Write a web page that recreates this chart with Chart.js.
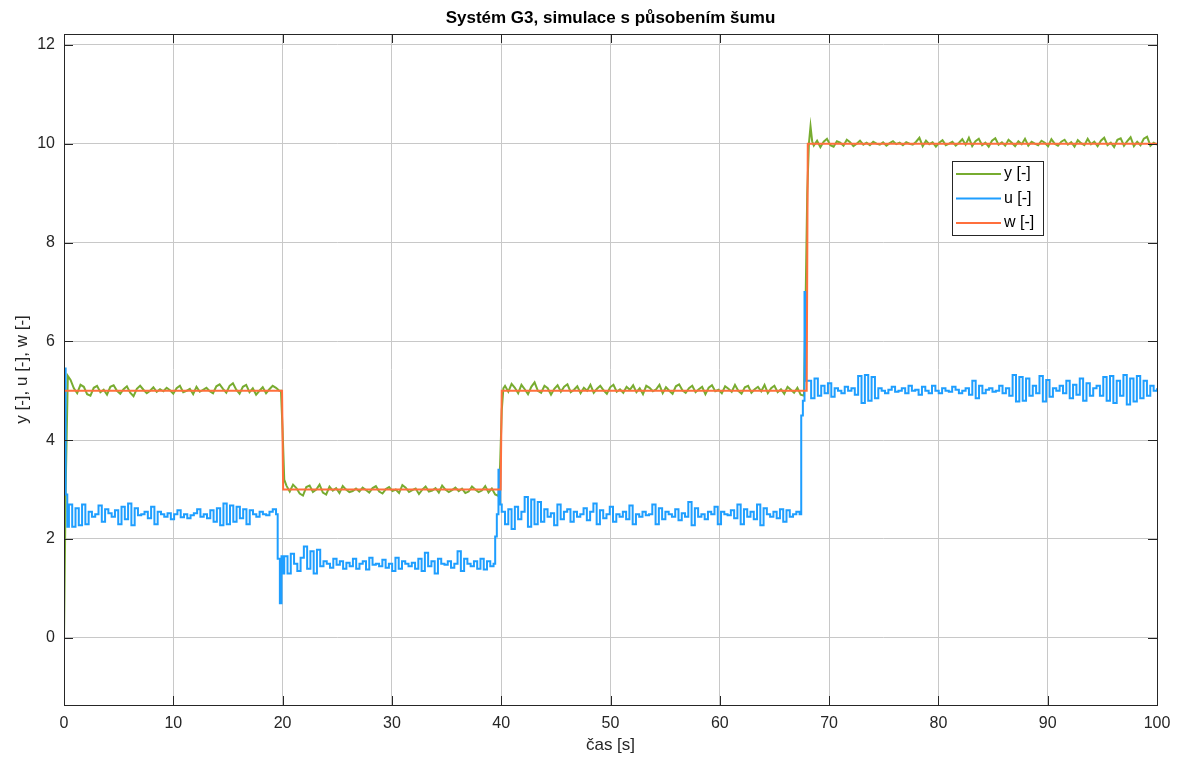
<!DOCTYPE html>
<html>
<head>
<meta charset="utf-8">
<script src="https://cdn.jsdelivr.net/npm/chart.js@4"></script>
<style>
  html, body { margin: 0; padding: 0; background: #fff; }
  canvas { display: block; }
</style>
</head>
<body>
<canvas id="chart" width="1185" height="767"></canvas>
<script>
// === DATA ===
const xTicks = [0, 10, 20, 30, 40, 50, 60, 70, 80, 90, 100];
const yTicks = [0, 2, 4, 6, 8, 10, 12];

// w - reference
const wT = [0, 19.95, 20.05, 39.95, 40.05, 67.95, 68.05, 100];
const wV = [5, 5, 3, 3, 5, 5, 10, 10];

// y - output (transitions + plateaus)
const yRiseT = [0, 0.15, 0.35];
const yRise = [0, 3.0, 5.3];
const y1 = [5.22,5.05,4.95,5.12,5.08,4.93,4.9,5.06,5.1,4.97,5.02,4.92,5.08,5.11,5.0,4.94,5.03,5.09,4.96,4.89,5.04,5.1,5.02,4.95,5.0,5.07,4.98,5.03,4.99,5.06,5.01,4.94,5.05,5.1,4.97,5.0,5.04,4.93,5.08,4.98,5.02,5.06,4.99,4.95,5.09,5.13,5.04,4.96,5.1,5.15,5.02,4.94,5.08,5.12,4.97,5.05,4.92,5.0,5.07,4.95,5.03,5.1,5.06,5.0];
const yDropT = [19.85, 20.0, 20.15];
const yDrop = [5.0, 4.2, 3.2];
const y2 = [3.08,2.96,3.1,3.03,2.92,2.88,3.05,3.08,2.95,3.0,3.1,2.94,2.9,3.06,2.98,3.03,2.93,3.07,3.0,2.95,2.97,3.02,2.96,3.04,2.99,2.94,3.03,3.07,2.96,2.92,3.01,3.05,2.97,3.0,2.93,3.09,3.04,2.95,2.99,3.02,2.91,3.0,3.06,2.96,2.98,3.03,2.94,3.08,3.0,2.95,2.99,3.04,2.97,3.02,2.93,2.96,3.06,3.0,2.95,2.98,3.07,2.94,3.02,2.9,2.87];
const yRise2T = [39.9, 40.05, 40.2];
const yRise2 = [3.5, 4.6, 5.05];
const y3 = [5.1,4.98,5.14,5.06,4.95,5.12,5.03,4.93,5.08,5.17,5.0,4.96,5.1,5.05,4.92,5.04,5.11,4.98,5.08,5.13,4.97,5.02,5.09,4.95,5.06,5.0,5.12,4.96,5.04,5.1,5.01,4.94,5.07,5.12,4.98,5.03,4.96,5.08,5.02,5.11,4.97,5.05,4.93,5.1,5.06,4.99,5.03,5.12,4.95,5.07,5.0,4.94,5.09,5.13,5.01,4.96,5.05,5.1,4.97,5.03,5.08,4.93,5.06,5.11,4.99,5.02,4.95,5.09,5.04,4.98,5.12,5.0,4.94,5.07,5.1,4.96,5.03,5.08,4.99,5.12,4.95,5.05,5.1,4.97,5.03,4.94,5.08,5.02,4.96,5.06,4.92,4.9];
const yRise3T = [67.85, 68.0, 68.15, 68.3, 68.45];
const yRise3 = [6.8, 9.0, 10.0, 10.35, 10.05];
const y4 = [9.96,10.06,9.93,10.04,10.1,9.97,9.94,10.05,10.02,9.96,10.08,10.03,9.95,10.0,10.06,9.98,10.02,9.97,10.04,10.0,9.98,10.03,9.96,10.01,10.05,9.99,10.02,9.97,10.03,10.0,9.98,10.04,10.12,9.95,10.06,9.99,10.03,9.94,10.02,10.07,9.97,10.0,10.04,9.96,10.02,10.09,9.98,10.12,9.95,10.05,10.1,9.97,10.02,9.94,10.06,10.11,9.98,10.03,9.96,10.08,10.02,9.95,10.05,9.99,10.1,9.96,10.04,10.0,9.97,10.06,10.02,9.95,10.09,10.0,9.96,10.04,10.08,9.98,10.03,9.94,10.07,10.01,9.97,10.1,9.99,10.04,9.95,10.06,10.12,9.97,10.02,9.93,10.08,10.11,9.96,10.05,10.13,9.95,10.04,9.97,10.1,10.14,9.96,10.02,9.98];

// u - control signal
const uStartT = [0, 0.15, 0.3];
const uStart = [5.45, 2.9, 2.25];
const u1 = [2.7,2.25,2.62,2.28,2.7,2.3,2.55,2.45,2.5,2.68,2.35,2.6,2.52,2.45,2.58,2.3,2.65,2.4,2.72,2.28,2.62,2.48,2.5,2.55,2.42,2.65,2.3,2.55,2.5,2.45,2.52,2.4,2.5,2.58,2.44,2.5,2.42,2.48,2.52,2.6,2.45,2.5,2.42,2.58,2.35,2.62,2.28,2.72,2.3,2.68,2.35,2.65,2.42,2.6,2.3,2.58,2.5,2.45,2.55,2.5,2.48,2.55,2.6,2.5];
const uDropT = [19.55, 19.75, 19.9, 20.0];
const uDrop = [1.6, 0.7, 1.65, 1.3];
const u2 = [1.65,1.3,1.7,1.5,1.35,1.62,1.85,1.4,1.75,1.3,1.78,1.45,1.55,1.5,1.42,1.6,1.48,1.55,1.4,1.52,1.45,1.6,1.4,1.5,1.55,1.38,1.62,1.48,1.5,1.45,1.58,1.42,1.5,1.35,1.62,1.4,1.55,1.5,1.45,1.52,1.4,1.6,1.35,1.72,1.45,1.55,1.3,1.6,1.5,1.48,1.55,1.42,1.5,1.75,1.35,1.6,1.5,1.45,1.55,1.4,1.6,1.38,1.55,1.45,1.5];
const uRiseT = [39.45, 39.6, 39.75, 39.9];
const uRise = [2.05, 2.5, 3.4, 2.7];
const u3 = [2.55,2.3,2.6,2.2,2.65,2.4,2.55,2.85,2.25,2.8,2.3,2.75,2.35,2.6,2.45,2.52,2.28,2.7,2.4,2.55,2.6,2.35,2.55,2.45,2.5,2.62,2.38,2.55,2.72,2.3,2.58,2.42,2.5,2.65,2.35,2.5,2.45,2.55,2.4,2.68,2.3,2.5,2.45,2.55,2.48,2.5,2.7,2.3,2.62,2.4,2.55,2.5,2.45,2.6,2.38,2.52,2.45,2.75,2.28,2.62,2.45,2.5,2.4,2.55,2.5,2.65,2.3,2.55,2.5,2.48,2.58,2.42,2.7,2.3,2.6,2.45,2.55,2.4,2.7,2.28,2.62,2.5,2.45,2.55,2.42,2.6,2.35,2.58,2.45,2.5,2.55,2.5];
const uRise2T = [67.45, 67.6, 67.75, 67.9];
const uRise2 = [4.5, 4.8, 7.0, 5.2];
const u4 = [5.2,4.85,5.25,4.9,5.1,4.95,5.15,4.88,5.05,5.0,4.95,5.08,5.0,5.05,4.92,5.3,4.75,5.32,4.8,5.28,4.85,5.05,5.0,4.95,5.02,5.08,4.98,5.0,5.05,4.95,5.1,5.0,5.02,4.92,5.08,5.0,4.95,5.1,5.0,4.95,5.05,5.0,4.98,5.08,5.02,4.95,5.0,5.05,4.92,5.2,4.85,5.1,4.95,5.02,5.05,4.98,5.0,5.1,4.95,5.05,4.9,5.32,4.78,5.28,4.8,5.25,4.9,5.1,4.95,5.3,4.78,5.22,4.88,5.05,5.0,5.1,4.95,5.2,4.85,5.12,4.92,5.25,4.8,5.15,4.9,5.05,5.1,4.9,5.28,4.8,5.3,4.75,5.2,4.9,5.32,4.72,5.25,4.78,5.3,4.85,5.2,4.9,5.1,5.0,5.05];

// === HELPERS ===
function pairs(ts, vs) {
  return ts.map((t, i) => ({ x: t, y: vs[i] }));
}
// plateau samples spread evenly between t0 and t1
function plateau(t0, t1, vs) {
  const dt = (t1 - t0) / (vs.length - 1);
  return vs.map((v, i) => ({ x: t0 + i * dt, y: v }));
}

const yData = [].concat(
  pairs(yRiseT, yRise), plateau(0.6, 19.7, y1),
  pairs(yDropT, yDrop), plateau(20.35, 39.75, y2),
  pairs(yRise2T, yRise2), plateau(40.35, 67.7, y3),
  pairs(yRise3T, yRise3), plateau(68.6, 100, y4)
);
const uData = [].concat(
  pairs(uStartT, uStart), plateau(0.45, 19.4, u1),
  pairs(uDropT, uDrop), plateau(20.15, 39.3, u2),
  pairs(uRiseT, uRise), plateau(40.05, 67.3, u3),
  pairs(uRise2T, uRise2), plateau(68.05, 100, u4)
);
const wData = pairs(wT, wV);

const FONT = "'Liberation Sans', Arial, sans-serif";
const TXT = "#262626";

// === DECORATIONS: box, inner ticks, title, labels, legend ===
const decor = {
  id: "decor",
  afterDraw(chart) {
    const ctx = chart.ctx;
    const a = chart.chartArea;
    const xs = chart.scales.x, ys = chart.scales.y;
    ctx.save();
    ctx.strokeStyle = TXT;
    ctx.lineWidth = 1;
    ctx.strokeRect(Math.round(a.left) + 0.5, Math.round(a.top) + 0.5,
      Math.round(a.right - a.left), Math.round(a.bottom - a.top));
    ctx.beginPath();
    xTicks.forEach(v => {
      const px = Math.round(xs.getPixelForValue(v)) + 0.5;
      ctx.moveTo(px, a.bottom); ctx.lineTo(px, a.bottom - 9);
      ctx.moveTo(px, a.top); ctx.lineTo(px, a.top + 9);
    });
    yTicks.forEach(v => {
      const py = Math.round(ys.getPixelForValue(v)) + 0.5;
      ctx.moveTo(a.left, py); ctx.lineTo(a.left + 9, py);
      ctx.moveTo(a.right, py); ctx.lineTo(a.right - 9, py);
    });
    ctx.stroke();

    ctx.fillStyle = "#000";
    ctx.textAlign = "center";
    ctx.textBaseline = "middle";
    ctx.font = "bold 17px " + FONT;
    ctx.fillText("Systém G3, simulace s působením šumu", (a.left + a.right) / 2, 18);
    ctx.fillStyle = TXT;
    ctx.font = "17px " + FONT;
    ctx.fillText("čas [s]", (a.left + a.right) / 2, 745);
    ctx.save();
    ctx.translate(22, (a.top + a.bottom) / 2);
    ctx.rotate(-Math.PI / 2);
    ctx.fillText("y [-], u [-], w [-]", 0, 0);
    ctx.restore();

    // legend
    const lx = 952, ly = 161, lw = 91, lh = 74;
    ctx.fillStyle = "#fff";
    ctx.fillRect(lx, ly, lw, lh);
    ctx.strokeStyle = TXT;
    ctx.strokeRect(lx + 0.5, ly + 0.5, lw, lh);
    ctx.font = "16px " + FONT;
    ctx.textAlign = "left";
    [0, 1, 2].forEach((di, i) => {
      const ds = chart.data.datasets[di];
      const cy = ly + 13 + i * 24.5;
      ctx.strokeStyle = ds.borderColor;
      ctx.lineWidth = 2;
      ctx.beginPath();
      ctx.moveTo(lx + 4, cy); ctx.lineTo(lx + 49, cy);
      ctx.stroke();
      ctx.fillStyle = "#000";
      ctx.fillText(ds.label, lx + 52, cy);
    });
    ctx.restore();
  }
};

new Chart(document.getElementById("chart"), {
  type: "line",
  data: {
    datasets: [
      { label: "y [-]", data: yData, borderColor: "#77AC30", borderWidth: 2, pointRadius: 0, order: 3 },
      { label: "u [-]", data: uData, borderColor: "#1E9EFF", borderWidth: 2, pointRadius: 0, stepped: "before", order: 2 },
      { label: "w [-]", data: wData, borderColor: "#FF6F3C", borderWidth: 2, pointRadius: 0, order: 1 }
    ]
  },
  options: {
    responsive: false,
    animation: false,
    parsing: false,
    layout: { padding: { top: 34, right: 28, left: 0, bottom: 0 } },
    plugins: { legend: { display: false }, title: { display: false }, tooltip: { enabled: false } },
    scales: {
      x: {
        type: "linear", min: 0, max: 100,
        afterBuildTicks: s => { s.ticks = xTicks.map(v => ({ value: v })); },
        afterFit: s => { s.height = 62; },
        grid: { color: "#c8c8c8", drawTicks: false },
        border: { display: false },
        ticks: { color: TXT, font: { family: FONT, size: 16 }, padding: 9, maxRotation: 0 }
      },
      y: {
        type: "linear", min: -1.36, max: 12.22,
        afterBuildTicks: s => { s.ticks = yTicks.map(v => ({ value: v })); },
        afterFit: s => { s.width = 64; },
        grid: { color: "#c8c8c8", drawTicks: false },
        border: { display: false },
        ticks: { color: TXT, font: { family: FONT, size: 16 }, padding: 9 }
      }
    }
  },
  plugins: [decor]
});
</script>
</body>
</html>
